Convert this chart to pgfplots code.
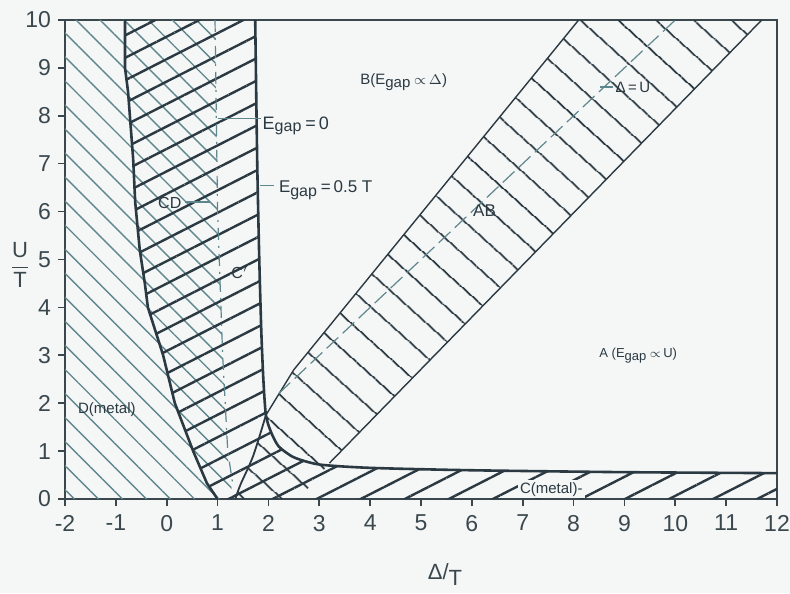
\documentclass[border=0pt]{standalone}
\usepackage{pgfplots}
\pgfplotsset{compat=1.18}
\usepackage{fontspec}
\setmainfont{Liberation Sans}
\usetikzlibrary{patterns.meta}
\definecolor{bg}{HTML}{F5F6F6}
\definecolor{ink}{HTML}{2B3A42}
\definecolor{teal}{HTML}{5E878D}
\definecolor{frame}{HTML}{3A484E}
\begin{document}
\begin{tikzpicture}
\fill[bg] (-32.5pt,-47pt) rectangle (362.5pt,249.5pt);
\begin{axis}[
  at={(0,0)}, anchor=south west,
  scale only axis, width=356pt, height=239.5pt,
  xmin=-2, xmax=12, ymin=0, ymax=10,
  xtick={-2,-1,...,12}, ytick={0,1,...,10},
  tick align=outside, xtick pos=bottom, ytick pos=left,
  major tick length=3.5pt,
  axis line style={frame, line width=0.8pt},
  every tick/.style={frame, line width=0.8pt},
  tick label style={font=\fontsize{11.5}{12}\selectfont, text=frame},
  /pgf/number format/assume math mode=true,
  xticklabel style={yshift=-1pt},
  axis background/.style={fill=bg},
]
% D (metal) region: thin hatch
\addplot[draw=none, pattern={Lines[angle=-45,distance=8.5pt,line width=0.7pt]}, pattern color=teal]
  coordinates {(-2,0) (1.3,0) (1.2,0.9) (1.1,3) (1.0,6) (0.95,10) (-2,10)};
% C region: thick hatch (column + strip)
\addplot[draw=none, pattern={Lines[angle=27,distance=10pt,line width=1.2pt]}, pattern color=ink]
  coordinates {(-0.82,10) (-0.82,9.0) (-0.76,8.5) (-0.66,7.1) (-0.62,6.2) (-0.53,5.2) (-0.43,4.5) (-0.37,4.0) (-0.07,3.0) (0.16,2.0) (0.52,1.0) (0.79,0.33) (1.0,0)
   (12,0) (12,0.54) (9,0.56) (6,0.6) (4,0.65) (3,0.72) (2.5,0.87) (2.2,1.1) (2.05,1.4) (1.95,1.75)
   (1.9,2.5) (1.86,3.5) (1.82,5) (1.78,7) (1.74,10)};
% AB band: perpendicular hatch
\addplot[draw=none, pattern={Lines[angle=-42,distance=13pt,line width=1.0pt]}, pattern color=ink]
  coordinates {(1.35,0) (1.45,0.3) (1.7,0.9) (1.95,1.75) (2.5,2.7) (8.1,10) (11.7,10) (3.2,0.75) (2.6,0)};
% AB band edges
\addplot[ink, line width=0.7pt] coordinates {(1.95,1.75) (2.5,2.7) (8.1,10)};
\addplot[ink, line width=0.7pt] coordinates {(3.2,0.75) (11.7,10)};
% boundaries
\addplot[ink, line width=1.3pt]
  coordinates {(-0.82,10) (-0.82,9.0) (-0.76,8.5) (-0.66,7.1) (-0.62,6.2) (-0.53,5.2) (-0.43,4.5) (-0.37,4.0) (-0.07,3.0) (0.16,2.0) (0.52,1.0) (0.79,0.33) (1.0,0)};
\addplot[ink, line width=1.3pt, smooth, tension=0.4]
  coordinates {(1.74,10) (1.78,7) (1.82,5) (1.86,3.5) (1.9,2.5) (1.95,1.75) (2.05,1.4) (2.2,1.1) (2.5,0.87) (3,0.72) (4,0.65) (6,0.6) (9,0.56) (12,0.54)};
\addplot[ink, line width=0.9pt, smooth]
  coordinates {(1.35,0) (1.45,0.3) (1.7,0.9) (1.95,1.75)};
% E_gap = 0 dashed
\addplot[teal, line width=0.6pt, dash pattern=on 6pt off 3pt on 1pt off 3pt]
  coordinates {(0.95,10) (1.0,6) (1.1,3) (1.2,1.0) (1.3,0.3)};
% Delta = U
\addplot[teal, line width=0.6pt, dash pattern=on 8pt off 3pt]
  coordinates {(2.2,2.2) (10,10)};
% leaders
\addplot[teal, line width=0.6pt] coordinates {(1.0,7.95) (1.85,7.95)};
\addplot[teal, line width=0.6pt] coordinates {(1.84,6.55) (2.1,6.55)};
\addplot[teal, line width=0.6pt] coordinates {(8.52,8.6) (8.78,8.6)};
\addplot[teal, line width=0.6pt] coordinates {(0.36,6.2) (0.85,6.2)};
% labels
\node[anchor=west, text=ink, font=\fontsize{7.5}{8}\selectfont, inner sep=0pt] at (axis cs:3.8,8.7) {B(E$_{\mbox{\fontsize{7.5}{8}\selectfont gap}}$\,$\propto$\,$\Delta$)};
\node[anchor=west, text=ink, font=\fontsize{7.5}{8}\selectfont, inner sep=0pt] at (axis cs:8.82,8.6) {Δ\,=\,U};
\node[text=ink, font=\fontsize{8.5}{9}\selectfont, inner sep=0pt] at (axis cs:6.25,6.03) {AB};
\node[anchor=base west, text=ink, font=\fontsize{9}{10}\selectfont, inner sep=0pt] at (axis cs:1.88,7.72) {E$_{\mbox{\fontsize{8}{9}\selectfont gap}}$\,=\,0};
\node[anchor=base west, text=ink, font=\fontsize{8.5}{10}\selectfont, inner sep=0pt] at (axis cs:2.2,6.39) {E$_{\mbox{\fontsize{8}{9}\selectfont gap}}$\,=\,0.5 T};
\node[text=ink, font=\fontsize{8}{9}\selectfont, inner sep=0pt] at (axis cs:0.06,6.18) {CD};
\node[text=ink, font=\fontsize{8}{9}\selectfont, inner sep=0pt] at (axis cs:1.44,4.74) {C$'$};
\node[anchor=west, text=ink, font=\fontsize{7.5}{8}\selectfont, inner sep=0pt] at (axis cs:-1.75,1.86) {D(metal)};
\node[anchor=west, text=ink, font=\fontsize{7.5}{8}\selectfont, inner sep=1pt, fill=bg] at (axis cs:6.9,0.2) {C(metal)-};
\node[anchor=west, text=ink, font=\fontsize{6.5}{7}\selectfont, inner sep=0pt] at (axis cs:8.5,3.0) {A (E$_{\mbox{\fontsize{6.5}{7}\selectfont gap}}$\,$\propto$\,U)};
\end{axis}
\node[text=frame, font=\fontsize{11}{12}\selectfont] at (-22.5pt,117pt) {$\displaystyle\frac{\mbox{U}}{\mbox{T}}$};
\node[text=frame, font=\fontsize{11}{12}\selectfont] at (190pt,-38pt) {Δ/\raisebox{-3pt}{T}};
\pgfresetboundingbox
\useasboundingbox (-32.5pt,-47pt) rectangle (362.5pt,249.5pt);
\end{tikzpicture}
\end{document}
